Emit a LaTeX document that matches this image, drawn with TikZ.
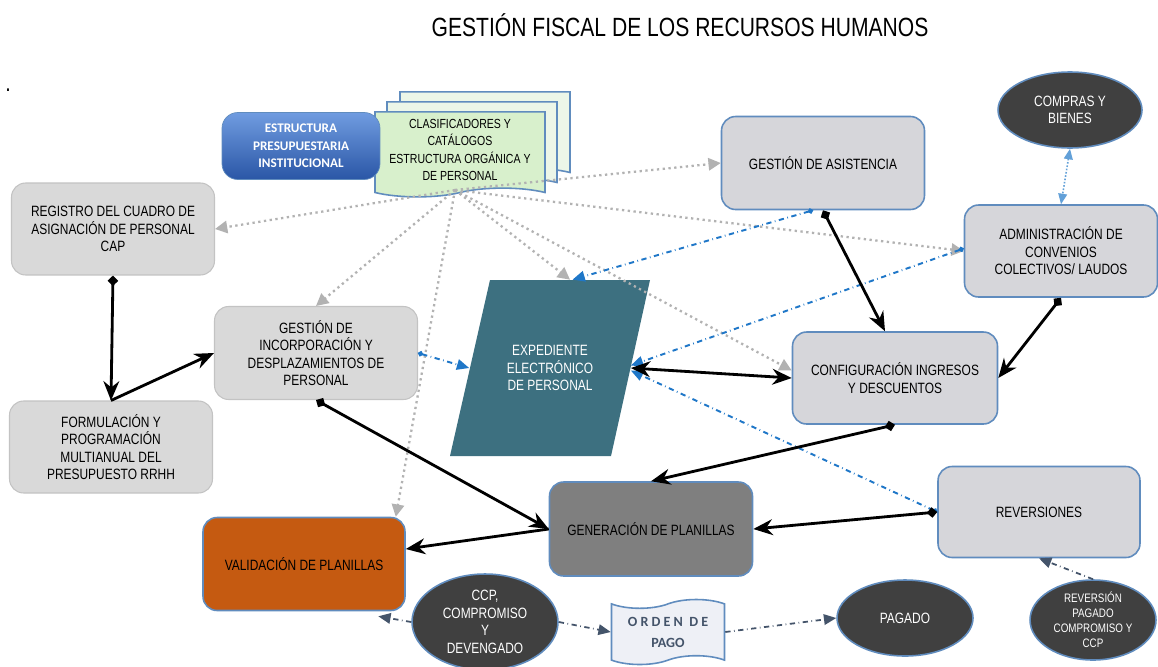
\documentclass[tikz,border=0pt]{standalone}
\usepackage{fontspec}
\setmainfont{Liberation Sans}[FakeStretch=0.8]
\newfontfamily\calfont{Carlito}
\usetikzlibrary{shapes.geometric, shapes.symbols, arrows.meta, positioning}
\definecolor{boxgray}{RGB}{217,217,217}
\definecolor{boxedge}{RGB}{195,195,195}
\definecolor{bluedge}{RGB}{96,140,190}
\definecolor{bluegray}{RGB}{214,214,218}
\definecolor{expteal}{RGB}{61,112,128}
\definecolor{genfill}{RGB}{127,127,127}
\definecolor{valfill}{RGB}{197,90,17}
\definecolor{ovaldark}{RGB}{64,64,64}
\definecolor{docgreen}{RGB}{216,240,204}
\definecolor{docpale}{RGB}{236,246,232}
\definecolor{estrtop}{RGB}{112,156,224}
\definecolor{estrbot}{RGB}{42,86,166}
\definecolor{myblue}{RGB}{31,119,200}
\definecolor{mydots}{RGB}{178,178,178}
\definecolor{myslate}{RGB}{68,84,106}
\definecolor{ordfill}{RGB}{238,240,246}
\tikzset{
  graybox/.style={rectangle, draw=boxedge, fill=boxgray, rounded corners=8pt,
    align=center, font=\fontsize{8.5}{10}\selectfont,
    minimum width=4.06cm, minimum height=1.84cm, line width=0.6pt},
  bluebox/.style={graybox, draw=bluedge, fill=bluegray, line width=0.9pt},
  oval/.style={ellipse, draw=bluedge, fill=ovaldark, text=white, align=center,
    font=\fontsize{8.5}{10}\selectfont, inner sep=0pt, line width=0.9pt},
  docpage/.style={tape, tape bend top=none, draw=bluedge, fill=docpale,
    minimum width=3.4cm, minimum height=1.7cm, line width=0.9pt,
    align=center, font=\fontsize{7.5}{10}\selectfont},
  blkarrow/.style={{Diamond[length=6pt,width=6pt]}-{Stealth[length=11pt,width=9pt]}, line width=1.6pt},
  plainarrow/.style={-{Stealth[length=11pt,width=9pt]}, line width=1.6pt},
  dualarrow/.style={{Stealth[length=11pt,width=9pt]}-{Stealth[length=11pt,width=9pt]}, line width=1.6pt},
  dotarrow/.style={-{Triangle[length=7pt,width=7pt]}, dotted, color=mydots, line width=1.3pt},
  bluearrow/.style={{Circle[length=3pt]}-{Triangle[length=7pt,width=6pt]}, dash dot, color=myblue, line width=1.1pt},
  slatearrow/.style={-{Triangle[length=7pt,width=6pt]}, dash dot, color=myslate, line width=1pt}
}

\begin{document}
\begin{tikzpicture}[x=0.02cm, y=-0.02cm]
  \fill[white] (0,0) rectangle (1158,666);
  \useasboundingbox (0,0) rectangle (1158,666);

  \node[font=\fontsize{15}{17}\selectfont] (title) at (680,25) {GESTIÓN FISCAL DE LOS RECURSOS HUMANOS};
  \node[font=\fontsize{14}{16}\selectfont] (dot) at (8,90) {.};

  % documentos de base
  \node[docpage] (doc3) at (485,130) {};
  \node[docpage] (doc2) at (472,140) {};
  \node[docpage, fill=docgreen] (docs) at (460,150) {CLASIFICADORES Y\\CATÁLOGOS\\ESTRUCTURA ORGÁNICA Y\\DE PERSONAL};
  \node[rectangle, rounded corners=9pt, draw=bluedge, top color=estrtop, bottom color=estrbot,
    minimum width=3.16cm, minimum height=1.34cm, align=center, text=white,
    font=\calfont\bfseries\fontsize{7.5}{10}\selectfont] (estr) at (301,146) {ESTRUCTURA\\PRESUPUESTARIA\\INSTITUCIONAL};
  \coordinate (hub) at (455,190);

  % procesos
  \node[graybox] (reg) at (113,229) {REGISTRO DEL CUADRO DE\\ASIGNACIÓN DE PERSONAL\\CAP};
  \node[graybox] (form) at (111,447) {FORMULACIÓN Y\\PROGRAMACIÓN\\MULTIANUAL DEL\\PRESUPUESTO RRHH};
  \node[graybox, minimum height=1.86cm] (inc) at (316,353) {GESTIÓN DE\\INCORPORACIÓN Y\\DESPLAZAMIENTOS DE\\PERSONAL};
  \fill[expteal] (450,456) -- (490,280) -- (650,280) -- (611,456) -- cycle;
  \node[rectangle, minimum width=3.22cm, minimum height=3.52cm, text=white, align=center,
    font=\fontsize{8.5}{10}\selectfont] (exp) at (550,368) {EXPEDIENTE\\ELECTRÓNICO\\DE PERSONAL};
  \node[bluebox, minimum height=1.86cm] (asis) at (823,163) {GESTIÓN DE ASISTENCIA};
  \node[oval, minimum width=2.88cm, minimum height=1.52cm] (compras) at (1070,110) {COMPRAS Y\\BIENES};
  \node[bluebox, minimum width=3.86cm] (adm) at (1061,251) {ADMINISTRACIÓN DE\\CONVENIOS\\COLECTIVOS/ LAUDOS};
  \node[bluebox, minimum width=4.1cm] (conf) at (895,378) {CONFIGURACIÓN INGRESOS\\Y DESCUENTOS};
  \node[bluebox, fill=genfill, minimum height=1.88cm] (gen) at (651,529) {GENERACIÓN DE PLANILLAS};
  \node[bluebox, minimum width=4.04cm, minimum height=1.82cm] (rev) at (1039,512) {REVERSIONES};
  \node[bluebox, fill=valfill, minimum width=4.04cm, minimum height=1.86cm] (val) at (304,564) {VALIDACIÓN DE PLANILLAS};

  % pagos
  \node[oval, minimum width=2.92cm, minimum height=1.92cm] (ccp) at (485,622) {CCP,\\COMPROMISO\\Y\\DEVENGADO};
  \node[tape, draw=bluedge, fill=ordfill, minimum width=2.26cm, minimum height=1.3cm, line width=0.9pt,
    align=center, font=\calfont\bfseries\fontsize{8}{12}\selectfont, text=myslate] (orden) at (668,632) {O R D E N \ D E\\PAGO};
  \node[oval, minimum width=2.72cm, minimum height=1.52cm] (pagado) at (905,618) {PAGADO};
  \node[oval, minimum width=2.52cm, minimum height=1.6cm, font=\fontsize{7}{8.5}\selectfont] (revpag) at (1093,620) {REVERSIÓN\\PAGADO\\COMPROMISO Y\\CCP};

  % flujo de la informacion base
  \draw[dotarrow] (hub) -- (reg.east);
  \draw[dotarrow] (hub) -- (asis.west);
  \draw[dotarrow] (hub) -- (adm.west);
  \draw[dotarrow] (hub) -- (inc.north);
  \draw[dotarrow] (hub) -- ([xshift=0.4cm]exp.north);
  \draw[dotarrow] (hub) -- ([yshift=0.15cm]conf.west);
  \draw[dotarrow] (hub) -- ([xshift=-0.2cm]val.north east);

  % registros hacia el expediente
  \draw[bluearrow] ([xshift=-0.2cm]asis.south) -- ([xshift=0.45cm]exp.north);
  \draw[bluearrow] ([yshift=0.05cm]adm.west) -- ([yshift=0.05cm]exp.east);
  \draw[bluearrow] (inc.east) -- (exp.west);
  \draw[bluearrow] (rev.west) -- ([yshift=-0.05cm]exp.east);
  \draw[{Triangle[length=6pt,width=5pt]}-{Triangle[length=6pt,width=5pt]}, densely dotted, myblue!70, line width=0.9pt] (compras.south) -- (adm.north);

  % flujo principal
  \draw[blkarrow] (reg.south) -- (form.north);
  \draw[plainarrow] (form.north) -- (inc.west);
  \draw[blkarrow] (asis.south) -- ([xshift=-0.2cm]conf.north);
  \draw[blkarrow] (adm.south) -- (conf.east);
  \draw[dualarrow] (exp.east) -- (conf.west);
  \draw[blkarrow] (conf.south) -- (gen.north);
  \draw[blkarrow] (inc.south) -- (gen.west);
  \draw[blkarrow] (rev.west) -- (gen.east);
  \draw[plainarrow] (gen.west) -- ([yshift=0.3cm]val.east);

  % pagos
  \draw[slatearrow] (ccp.west) -- ([xshift=-0.55cm,yshift=-0.1cm]val.south east);
  \draw[slatearrow] (ccp.east) -- (orden.west);
  \draw[slatearrow] (orden.east) -- (pagado.west);
  \draw[slatearrow] (revpag.north) -- (rev.south);
\end{tikzpicture}
\end{document}
